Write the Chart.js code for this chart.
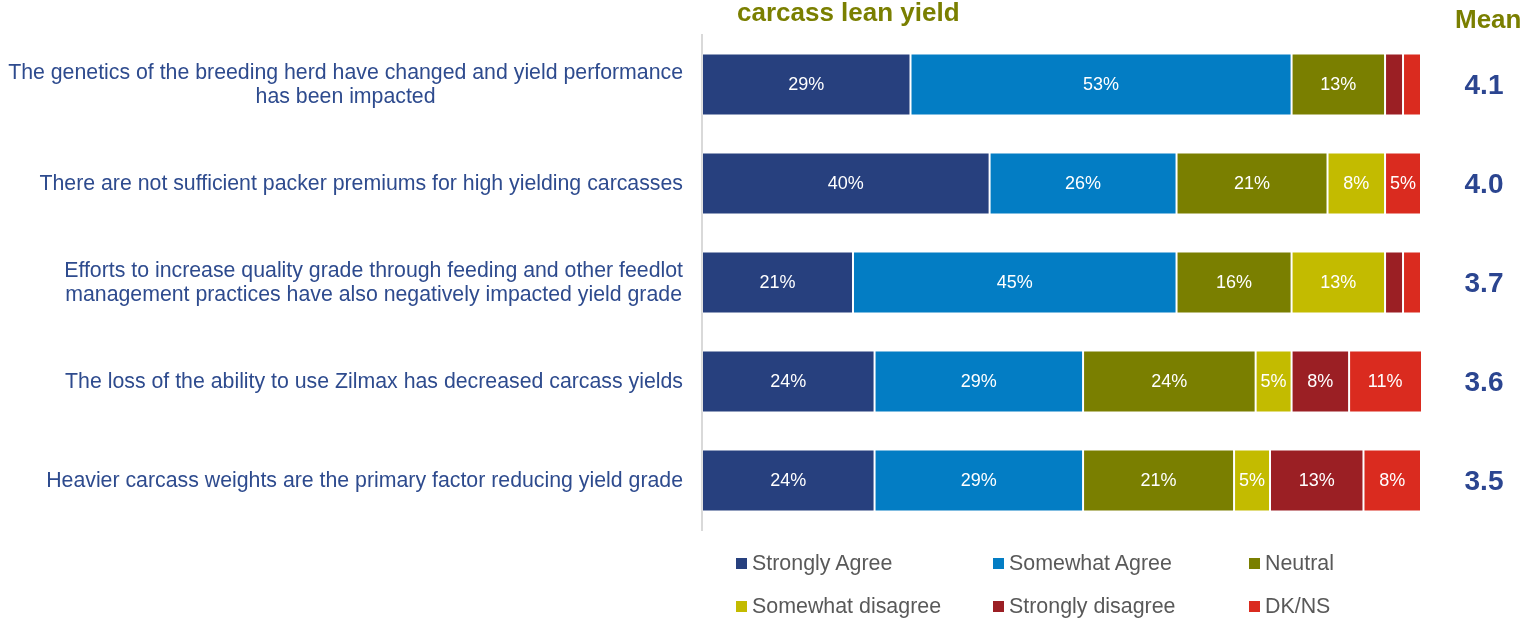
<!DOCTYPE html>
<html>
<head>
<meta charset="utf-8">
<title>Carcass lean yield</title>
<script src="https://cdn.jsdelivr.net/npm/chart.js@4.4.1/dist/chart.umd.min.js"></script>
<style>
  html, body { margin: 0; padding: 0; background: #fff; }
  #wrap { position: relative; width: 1526px; height: 619px; overflow: hidden; }
  #legend {
    position: absolute; left: 736px; top: 542px;
    display: grid; grid-template-columns: 257px 256px 220px; grid-auto-rows: 43px;
    font-family: Arial, "Liberation Sans", sans-serif; font-size: 21.4px; color: #595959;
  }
  #legend .item { display: flex; align-items: center; }
  #legend .box { width: 11px; height: 11px; margin-right: 5px; flex: none; }
</style>
</head>
<body>
<div id="wrap">
  <canvas id="myChart" width="1526" height="619"></canvas>
  <div id="legend"></div>
</div>
<script>
// statements, top to bottom
var categories = [
  ['The genetics of the breeding herd have changed and yield performance', 'has been impacted'],
  ['There are not sufficient packer premiums for high yielding carcasses'],
  ['Efforts to increase quality grade through feeding and other feedlot', 'management practices have also negatively impacted yield grade'],
  ['The loss of the ability to use Zilmax has decreased carcass yields'],
  ['Heavier carcass weights are the primary factor reducing yield grade']
];
var means = ['4.1', '4.0', '3.7', '3.6', '3.5'];

// percent of respondents per answer
var strongAgree      = [29, 40, 21, 24, 24];
var somewhatAgree    = [53, 26, 45, 29, 29];
var neutral          = [13, 21, 16, 24, 21];
var somewhatDisagree = [0, 8, 13, 5, 5];
var strongDisagree   = [2.5, 0, 2.5, 8, 13];
var dkns             = [2.5, 5, 2.5, 11, 8];

var seriesNames  = ['Strongly Agree', 'Somewhat Agree', 'Neutral', 'Somewhat disagree', 'Strongly disagree', 'DK/NS'];
var seriesData   = [strongAgree, somewhatAgree, neutral, somewhatDisagree, strongDisagree, dkns];
var seriesColors = ['#27407e', '#037dc4', '#7a7f00', '#c3bb00', '#9b1f24', '#da2b1f'];

var FONT = 'Arial, "Liberation Sans", sans-serif';

var datasets = seriesNames.map(function (name, i) {
  return {
    label: name,
    data: seriesData[i],
    backgroundColor: seriesColors[i],
    borderColor: 'rgba(255,255,255,0.22)',
    borderWidth: 1,
    borderSkipped: false
  };
});

// white percentage inside each segment
var segmentLabels = {
  id: 'segmentLabels',
  afterDatasetsDraw: function (chart) {
    var ctx = chart.ctx;
    var right = chart.chartArea.right;
    ctx.save();
    ctx.font = '18px ' + FONT;
    ctx.fillStyle = '#ffffff';
    ctx.textAlign = 'center';
    ctx.textBaseline = 'middle';
    chart.data.datasets.forEach(function (ds, di) {
      var meta = chart.getDatasetMeta(di);
      meta.data.forEach(function (bar, i) {
        var v = ds.data[i];
        if (v < 4) return;
        var x2 = Math.min(bar.x, right);
        ctx.fillText(v + '%', (bar.base + x2) / 2, bar.y + 1);
      });
    });
    ctx.restore();
  }
};

// statement text on the left, mean on the right, headings at top
var sideText = {
  id: 'sideText',
  afterDraw: function (chart) {
    var ctx = chart.ctx;
    var yScale = chart.scales.y;
    ctx.save();
    ctx.textBaseline = 'middle';

    ctx.font = '21.3px ' + FONT;
    ctx.fillStyle = '#2e4b8e';
    ctx.textAlign = 'center';
    categories.forEach(function (lines, i) {
      var cy = yScale.getPixelForValue(i);
      var widest = 0;
      lines.forEach(function (l) { widest = Math.max(widest, ctx.measureText(l).width); });
      var cx = 683 - widest / 2;
      var lh = 24;
      var y0 = cy - (lines.length - 1) * lh / 2 + 1;
      lines.forEach(function (l, k) { ctx.fillText(l, cx, y0 + k * lh); });
    });

    ctx.font = 'bold 28px ' + FONT;
    ctx.fillStyle = '#2b4590';
    means.forEach(function (m, i) {
      ctx.fillText(m, 1484, yScale.getPixelForValue(i) + 2);
    });

    ctx.font = 'bold 26px ' + FONT;
    ctx.fillStyle = '#7a7f00';
    ctx.textAlign = 'left';
    ctx.fillText('carcass lean yield', 737, 14);
    ctx.fillText('Mean', 1455, 21);
    ctx.restore();
  }
};

var ctx = document.getElementById('myChart');
var myChart = new Chart(ctx, {
  type: 'bar',
  data: {
    labels: categories,
    datasets: datasets
  },
  options: {
    indexAxis: 'y',
    responsive: false,
    animation: false,
    layout: { padding: { top: 35, right: 105, bottom: 89, left: 0 } },
    datasets: { bar: { barPercentage: 0.625, categoryPercentage: 1 } },
    plugins: {
      legend: { display: false },
      tooltip: { enabled: false }
    },
    scales: {
      x: { stacked: true, min: 0, max: 100, display: false },
      y: {
        stacked: true,
        grid: { display: false, drawTicks: false },
        border: { display: true, color: '#d9d9d9', width: 2 },
        ticks: { display: false },
        afterFit: function (scale) { scale.width = 702; }
      }
    }
  },
  plugins: [segmentLabels, sideText]
});

// legend in a 3 x 2 grid
var legendEl = document.getElementById('legend');
seriesNames.forEach(function (name, i) {
  var item = document.createElement('div');
  item.className = 'item';
  item.innerHTML = '<span class="box" style="background:' + seriesColors[i] + '"></span>' + name;
  legendEl.appendChild(item);
});
</script>
</body>
</html>
